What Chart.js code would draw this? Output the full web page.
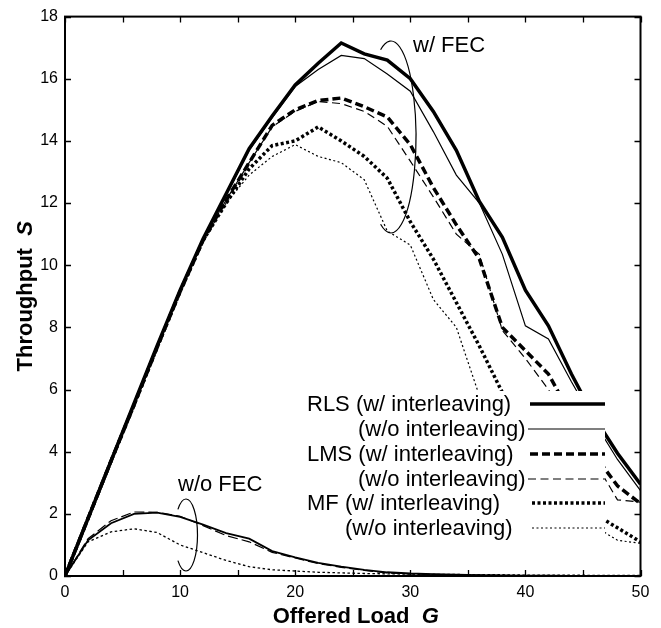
<!DOCTYPE html>
<html>
<head>
<meta charset="utf-8">
<script src="https://cdn.jsdelivr.net/npm/chart.js@4"></script>
<style>
  body { margin: 0; background: #fff; }
  canvas { display: block; }
</style>
</head>
<body>
<canvas id="chart" width="661" height="628"></canvas>
<script>
// offered load G
const loads = [0, 2, 4, 6, 8, 10, 12, 14, 16, 18, 20, 22, 24, 26, 28, 30, 32, 34, 36, 38, 40, 42, 44, 46, 48, 50];

// w/ FEC
const rlsInter   = [0, 1.85, 3.7, 5.55, 7.4, 9.2, 10.85, 12.3, 13.75, 14.8, 15.8, 16.5, 17.15, 16.8, 16.6, 16.0, 14.95, 13.7, 12.05, 10.9, 9.2, 8.05, 6.5, 5.1, 3.95, 2.95];
const rlsNoInter = [0, 1.85, 3.7, 5.55, 7.4, 9.2, 10.85, 12.25, 13.7, 14.75, 15.75, 16.3, 16.75, 16.65, 16.15, 15.6, 14.3, 12.9, 12.0, 10.35, 8.05, 7.63, 6.25, 4.95, 3.75, 2.75];
const lmsInter   = [0, 1.85, 3.7, 5.5, 7.35, 9.15, 10.8, 12.1, 13.3, 14.5, 15.0, 15.3, 15.38, 15.1, 14.77, 13.88, 12.5, 11.3, 10.2, 8.0, 7.25, 6.5, 5.15, 3.9, 2.9, 2.33];
const lmsNoInter = [0, 1.85, 3.7, 5.5, 7.35, 9.15, 10.8, 12.1, 13.3, 14.45, 14.95, 15.27, 15.2, 14.95, 14.47, 13.35, 12.2, 11.0, 10.35, 7.9, 7.0, 6.0, 4.75, 3.7, 2.45, 2.38];
const mfInter    = [0, 1.85, 3.7, 5.5, 7.35, 9.15, 10.8, 12.0, 13.1, 13.85, 14.0, 14.45, 14.0, 13.5, 12.8, 11.4, 10.2, 8.8, 7.4, 5.9, 4.6, 3.5, 2.6, 2.0, 1.55, 1.1];
const mfNoInter  = [0, 1.85, 3.7, 5.5, 7.35, 9.15, 10.8, 12.0, 12.9, 13.5, 13.88, 13.5, 13.3, 12.75, 11.1, 10.65, 8.9, 8.0, 5.8, 4.5, 3.4, 2.5, 2.0, 1.6, 1.15, 1.05];

// w/o FEC
const noFecRls = [0, 1.15, 1.7, 2.0, 2.04, 1.9, 1.65, 1.38, 1.2, 0.8, 0.6, 0.42, 0.3, 0.2, 0.12, 0.08, 0.06, 0.04, 0.03, 0.02, 0.01, 0.01, 0, 0, 0, 0];
const noFecLms = [0, 1.2, 1.78, 2.06, 2.05, 1.92, 1.62, 1.3, 1.1, 0.76, 0.58, 0.4, 0.28, 0.18, 0.1, 0.07, 0.05, 0.04, 0.03, 0.02, 0.01, 0.01, 0, 0, 0, 0];
const noFecMf  = [0, 1.1, 1.42, 1.52, 1.4, 1.0, 0.75, 0.5, 0.3, 0.2, 0.16, 0.12, 0.1, 0.08, 0.07, 0.06, 0.05, 0.05, 0.04, 0.04, 0.03, 0.03, 0.03, 0.02, 0.02, 0.02];

const legendLabels = [
    'RLS (w/ interleaving)',
    '(w/o interleaving)',
    'LMS (w/ interleaving)',
    '(w/o interleaving)',
    'MF (w/ interleaving)',
    '(w/o interleaving)'
];

const FONT = '"Liberation Sans", Arial, Helvetica, sans-serif';

function series(values) {
    return values.map((v, i) => ({ x: loads[i], y: v }));
}

function lineSet(label, values, width, dash) {
    return {
        label: label,
        data: series(values),
        borderColor: '#000',
        borderWidth: width,
        borderDash: dash,
        borderCapStyle: 'butt',
        borderJoinStyle: 'miter',
        pointRadius: 0,
        tension: 0,
        fill: false
    };
}

const datasets = [
    lineSet(legendLabels[0], rlsInter, 3.5, []),
    lineSet(legendLabels[1], rlsNoInter, 1.2, []),
    lineSet(legendLabels[2], lmsInter, 3.5, [8, 4]),
    lineSet(legendLabels[3], lmsNoInter, 1.2, [8, 4.5]),
    lineSet(legendLabels[4], mfInter, 3.5, [3, 2.5]),
    lineSet(legendLabels[5], mfNoInter, 1.2, [2, 2.5]),
    lineSet('RLS w/o FEC', noFecRls, 1.8, []),
    lineSet('LMS w/o FEC', noFecLms, 1.2, [10, 4]),
    lineSet('MF w/o FEC', noFecMf, 1.3, [2.5, 2.5])
];

// legend, notes, frame, ticks and axis titles drawn over the plot
const decorations = {
    id: 'decorations',
    afterDatasetsDraw(chart) {
        const { ctx, chartArea: a, scales } = chart;
        const xs = scales.x, ys = scales.y;
        ctx.save();
        ctx.fillStyle = '#000';
        ctx.strokeStyle = '#000';

        // legend box
        ctx.fillStyle = '#fff';
        ctx.fillRect(299, 391, 306, 155);
        ctx.fillStyle = '#000';
        const rowY = [404, 429, 454, 479, 503, 528];
        const textX = [307, 358, 307, 358, 307, 345];
        const lineX = [530, 528, 530, 528, 532, 532];
        ctx.font = '22px ' + FONT;
        ctx.textBaseline = 'middle';
        ctx.textAlign = 'left';
        legendLabels.forEach((label, i) => {
            const ds = chart.data.datasets[i];
            ctx.fillText(label, textX[i], rowY[i] + 1);
            ctx.beginPath();
            ctx.lineWidth = ds.borderWidth;
            ctx.setLineDash(ds.borderDash);
            ctx.lineCap = 'butt';
            ctx.moveTo(lineX[i], rowY[i]);
            ctx.lineTo(605, rowY[i]);
            ctx.stroke();
        });
        ctx.setLineDash([]);

        // notes
        ctx.lineWidth = 1.2;
        ctx.beginPath();
        ctx.ellipse(391, 137, 25, 96, 0, -2.0, 2.0);
        ctx.stroke();
        ctx.beginPath();
        ctx.ellipse(186, 535, 11.5, 36, 0, -2.35, 2.35);
        ctx.stroke();
        ctx.textBaseline = 'alphabetic';
        ctx.fillText('w/ FEC', 413, 52);
        ctx.fillText('w/o FEC', 178, 491);

        // frame
        ctx.lineWidth = 2;
        ctx.strokeRect(a.left, a.top, a.right - a.left, a.bottom - a.top);

        // ticks
        ctx.lineWidth = 1.3;
        ctx.beginPath();
        xs.ticks.forEach(t => {
            const px = Math.round(xs.getPixelForValue(t.value)) + 0.5;
            ctx.moveTo(px, a.bottom); ctx.lineTo(px, a.bottom - 6);
            ctx.moveTo(px, a.top); ctx.lineTo(px, a.top + 6);
        });
        ys.ticks.forEach(t => {
            const py = Math.round(ys.getPixelForValue(t.value)) + 0.5;
            ctx.moveTo(a.left - 1, py); ctx.lineTo(a.left + 6, py);
            ctx.moveTo(a.right, py); ctx.lineTo(a.right - 6, py);
        });
        ctx.stroke();

        // axis titles
        const bold = 'bold 22px ' + FONT;
        const boldIt = 'italic bold 22px ' + FONT;
        ctx.font = bold;
        const xMain = 'Offered Load  ';
        const xW = ctx.measureText(xMain).width;
        ctx.font = boldIt;
        const gW = ctx.measureText('G').width;
        let sx = (a.left + a.right) / 2 + 3 - (xW + gW) / 2;
        ctx.font = bold;
        ctx.fillText(xMain, sx, 623);
        ctx.font = boldIt;
        ctx.fillText('G', sx + xW, 623);

        ctx.save();
        ctx.translate(32, (a.top + a.bottom) / 2);
        ctx.rotate(-Math.PI / 2);
        ctx.font = bold;
        const yMain = 'Throughput  ';
        const yW = ctx.measureText(yMain).width;
        ctx.font = boldIt;
        const sW = ctx.measureText('S').width;
        ctx.font = bold;
        ctx.fillText(yMain, -(yW + sW) / 2, 0);
        ctx.font = boldIt;
        ctx.fillText('S', -(yW + sW) / 2 + yW, 0);
        ctx.restore();

        ctx.restore();
    }
};

new Chart(document.getElementById('chart'), {
    type: 'line',
    data: { datasets: datasets },
    options: {
        responsive: false,
        animation: false,
        layout: { padding: { top: 15, right: 20.5, left: 0, bottom: 0 } },
        plugins: {
            legend: { display: false },
            tooltip: { enabled: false }
        },
        scales: {
            x: {
                type: 'linear',
                min: 0,
                max: 50,
                grid: { display: false, drawTicks: false },
                border: { display: false },
                ticks: {
                    stepSize: 5,
                    autoSkip: false,
                    maxRotation: 0,
                    padding: 7,
                    color: '#000',
                    font: { family: FONT, size: 16 },
                    callback: v => (v % 10 === 0 ? v : '')
                },
                afterFit: scale => { scale.height = 52; }
            },
            y: {
                min: 0,
                max: 18,
                grid: { display: false, drawTicks: false },
                border: { display: false },
                ticks: {
                    stepSize: 2,
                    padding: 7,
                    color: '#000',
                    font: { family: FONT, size: 16 }
                },
                afterFit: scale => { scale.width = 65; }
            }
        }
    },
    plugins: [decorations]
});
</script>
</body>
</html>
